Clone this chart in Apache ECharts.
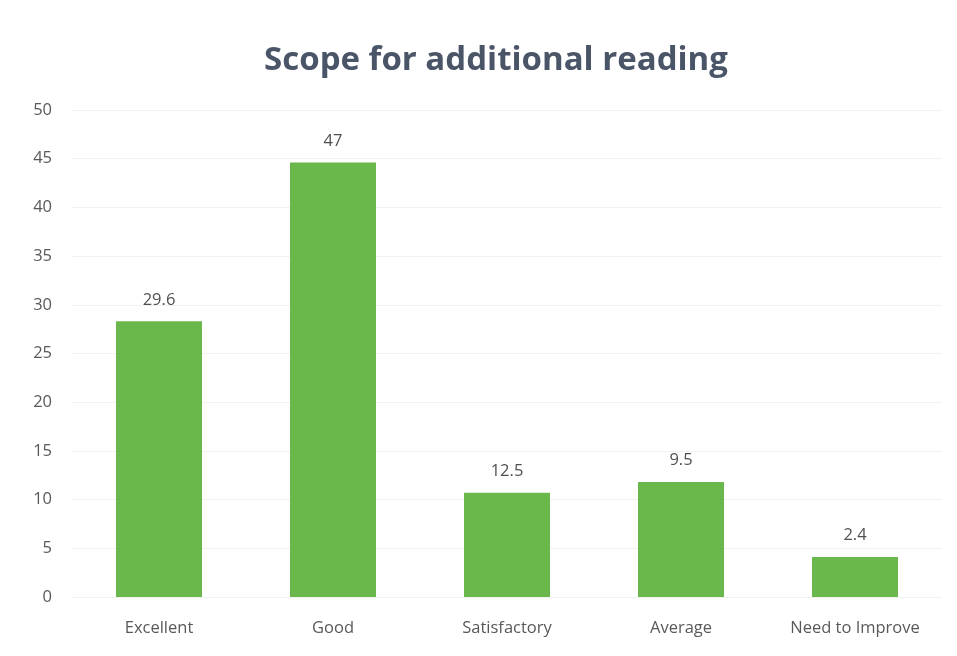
<!DOCTYPE html>
<html><head><meta charset="utf-8">
<script src="https://cdn.jsdelivr.net/npm/echarts@6/dist/echarts.min.js"></script>
<style>html,body{margin:0;padding:0;background:#fff}#c{width:957px;height:656px}</style>
</head><body><div id="c"></div>
<script>
const categories = ['Excellent', 'Good', 'Satisfactory', 'Average', 'Need to Improve'];
// bar heights as drawn in the picture
const barHeights = [28.3, 44.6, 10.7, 11.8, 4.1];
// value labels printed above the bars
const valueLabels = ['29.6', '47', '12.5', '9.5', '2.4'];
const yTicks = [0, 5, 10, 15, 20, 25, 30, 35, 40, 45, 50];

const chart = echarts.init(document.getElementById('c'));
chart.setOption({
  animation: false,
  backgroundColor: '#ffffff',
  title: {
    text: 'Scope for additional reading',
    left: 491, textAlign: 'center', top: 39,
    textStyle: { fontFamily: 'Open Sans', fontWeight: 'bold', fontSize: 33, color: '#4a5568' }
  },
  grid: { left: 72, right: 15, top: 110, bottom: 59 },
  xAxis: {
    type: 'category', data: categories,
    axisLine: { show: false }, axisTick: { show: false },
    axisLabel: { fontFamily: 'Open Sans', fontSize: 16.5, color: '#595959', margin: 23 }
  },
  yAxis: {
    type: 'value', min: yTicks[0], max: yTicks[yTicks.length - 1], interval: 5,
    axisLine: { show: false }, axisTick: { show: false },
    axisLabel: { fontFamily: 'Open Sans', fontSize: 16.5, color: '#595959', margin: 20 },
    splitLine: { lineStyle: { color: '#f2f2f2', width: 1 } }
  },
  series: [{
    type: 'bar', data: barHeights, barWidth: 86,
    itemStyle: { color: '#6ab84c' },
    label: {
      show: true, position: 'top', distance: 13,
      fontFamily: 'Open Sans', fontSize: 16.5, color: '#505050',
      formatter: p => valueLabels[p.dataIndex]
    }
  }]
});
</script></body></html>
